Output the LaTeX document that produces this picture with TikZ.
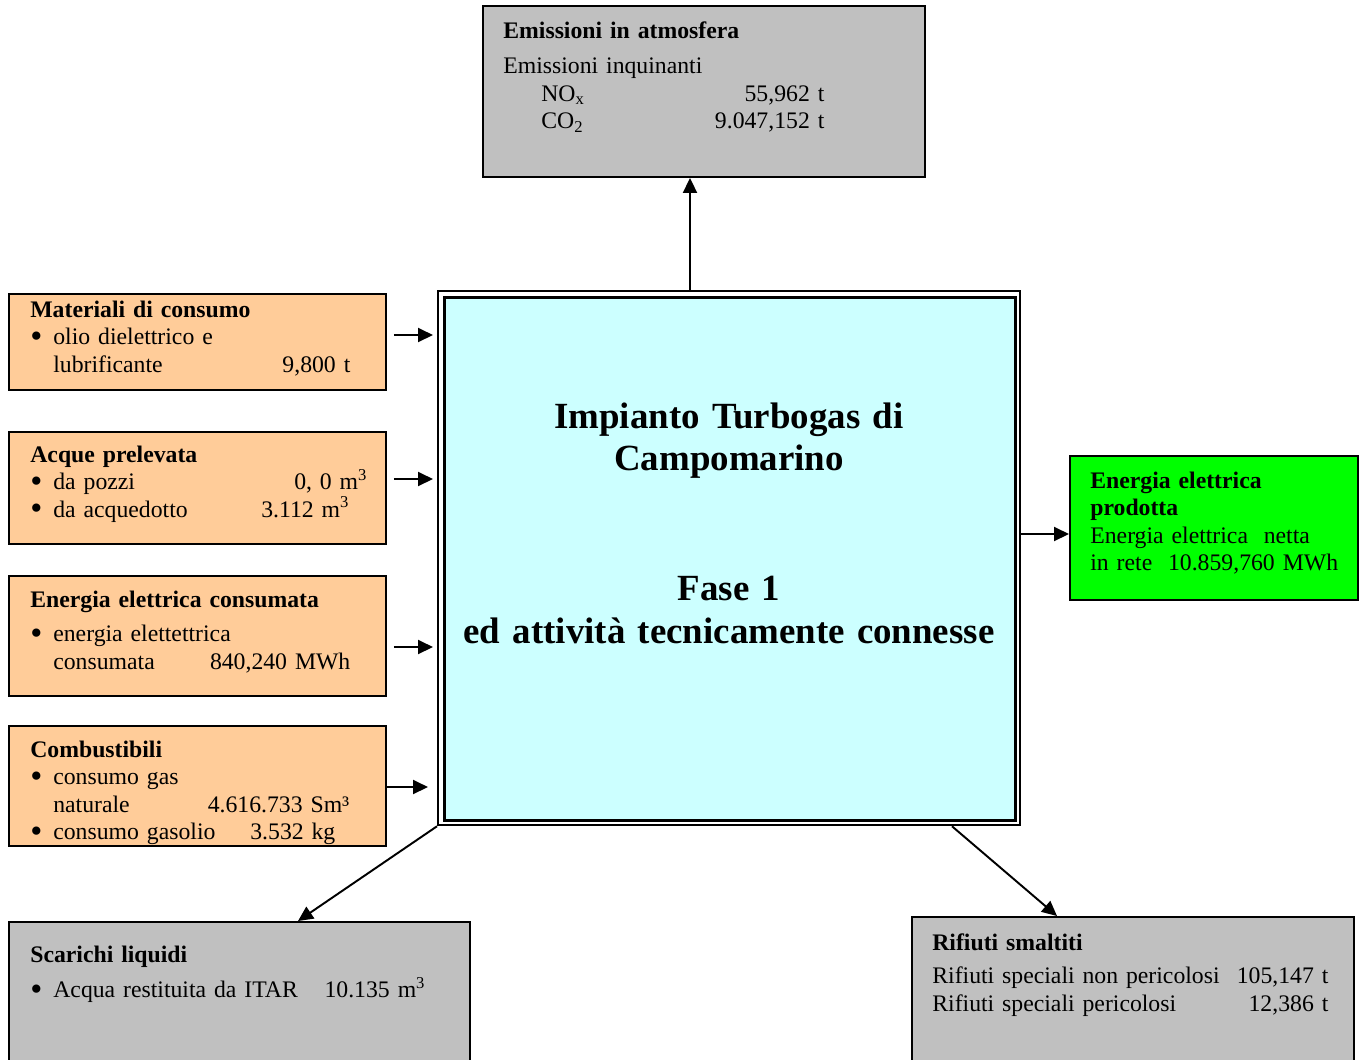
\documentclass[tikz,border=0pt]{standalone}
\usepackage{fontspec}
\setmainfont{Liberation Serif}
\usetikzlibrary{arrows.meta}

\definecolor{grigio}{HTML}{C0C0C0}
\definecolor{arancio}{HTML}{FFCC99}
\definecolor{azzurro}{HTML}{CCFFFF}
\definecolor{verde}{HTML}{00FF00}

\newcommand{\blt}{\makebox[4.6mm][l]{\raisebox{-1.6pt}{\scalebox{1.45}{\textbullet}}}}

\tikzset{
  box/.style={draw, line width=1.1pt, anchor=north west, inner sep=0pt},
  testo/.style={anchor=base west, inner sep=0pt, align=left,
    font=\fontsize{13.5}{15.65}\selectfont},
  titolo/.style={anchor=base, inner sep=0pt, align=center, text width=120mm,
    font=\fontsize{21}{24.45}\selectfont\bfseries},
  freccia/.style={-{Triangle[length=3mm, width=2.8mm]}, line width=1.1pt},
}

\begin{document}
\begin{tikzpicture}[x=0.2mm, y=-0.2mm]
    \useasboundingbox (0,0) rectangle (1360,1059);
    \clip (0,0) rectangle (1360,1059);

    \node[box, fill=grigio, minimum width=88.4mm, minimum height=34.2mm] (emissioni) at (482,5) {};
    \node[box, fill=arancio, minimum width=75.4mm, minimum height=19.2mm] (materiali) at (8,293) {};
    \node[box, fill=arancio, minimum width=75.4mm, minimum height=22.4mm] (acque) at (8,431) {};
    \node[box, fill=arancio, minimum width=75.4mm, minimum height=24mm] (consumata) at (8,575) {};
    \node[box, fill=arancio, minimum width=75.4mm, minimum height=24mm] (combustibili) at (8,725) {};
    \node[box, fill=verde, minimum width=57.6mm, minimum height=28.8mm] (prodotta) at (1069,455) {};
    \node[box, fill=grigio, minimum width=92.2mm, minimum height=30mm] (scarichi) at (8,921) {};
    \node[box, fill=grigio, minimum width=88.4mm, minimum height=31mm] (rifiuti) at (911,916) {};
    \node[box, line width=0.45mm, minimum width=116.4mm, minimum height=106.8mm] (esterno) at (437,290) {};
    \node[box, fill=azzurro, line width=0.65mm, minimum width=114.2mm, minimum height=104.6mm] (impianto) at (443,296) {};

    \node[testo, text width=64.2mm] (emissioni-t) at (503,38) {\textbf{Emissioni in atmosfera}\\[1.6mm]
        Emissioni inquinanti\\
        \hspace*{7.6mm}NO\textsubscript{x}\hfill 55,962 t\\
        \hspace*{7.6mm}CO\textsubscript{2}\hfill 9.047,152 t};
    \node[testo, text width=64mm] (materiali-t) at (30,317) {\textbf{Materiali di consumo}\\
        \blt olio dielettrico e\\
        \hspace*{4.6mm}lubrificante\hfill 9,800 t};
    \node[testo, text width=67.4mm] (acque-t) at (30,462) {\textbf{Acque prelevata}\\
        \blt da pozzi\hfill 0, 0 m\textsuperscript{3}\\
        \blt da acquedotto\hfill 3.112 m\textsuperscript{3}\kern3.6mm};
    \node[testo, text width=64mm] (consumata-t) at (30,607) {\textbf{Energia elettrica consumata}\\[1.4mm]
        \blt energia elettettrica\\
        \hspace*{4.6mm}consumata\hfill 840,240 MWh};
    \node[testo, text width=63.8mm] (combustibili-t) at (30,757) {\textbf{Combustibili}\\
        \blt consumo gas\\
        \hspace*{4.6mm}naturale\hfill 4.616.733 Sm³\\
        \blt consumo gasolio\hfill 3.532 kg\kern2.8mm};
    \node[testo, text width=52mm] (prodotta-t) at (1090,488) {\textbf{Energia elettrica}\\
        \textbf{prodotta}\\
        Energia elettrica\ \ netta\\
        in rete\ \ 10.859,760 MWh};
    \node[testo, text width=79mm] (scarichi-t) at (30,962) {\textbf{Scarichi liquidi}\\[1.6mm]
        \blt Acqua restituita da ITAR\hfill 10.135 m\textsuperscript{3}};
    \node[testo, text width=79.2mm] (rifiuti-t) at (932,950) {\textbf{Rifiuti smaltiti}\\[1.2mm]
        Rifiuti speciali non pericolosi\hfill 105,147 t\\
        Rifiuti speciali pericolosi\hfill 12,386 t};
    \node[titolo] (impianto-t) at (729,428) {Impianto Turbogas di\\
        Campomarino\\[17.4mm]
        Fase 1\\
        ed attività tecnicamente connesse};

    \draw[freccia] (esterno.north -| 690,0) -- (emissioni.south -| 690,0);
    \draw[freccia, shorten <=1.4mm, shorten >=0.8mm] (materiali.east |- 0,335) -- (esterno.west |- 0,335);
    \draw[freccia, shorten <=1.4mm, shorten >=0.8mm] (acque.east |- 0,479) -- (esterno.west |- 0,479);
    \draw[freccia, shorten <=1.4mm, shorten >=0.8mm] (consumata.east |- 0,647) -- (esterno.west |- 0,647);
    \draw[freccia, shorten >=1.8mm] (combustibili.east |- 0,787) -- (esterno.west |- 0,787);
    \draw[freccia] (esterno.east |- 0,534) -- (prodotta.west |- 0,534);
    \draw[freccia] (esterno.south west) -- (scarichi.north -| 298,0);
    \draw[freccia] (esterno.south -| 952,0) -- (rifiuti.north -| 1057,0);
\end{tikzpicture}
\end{document}
